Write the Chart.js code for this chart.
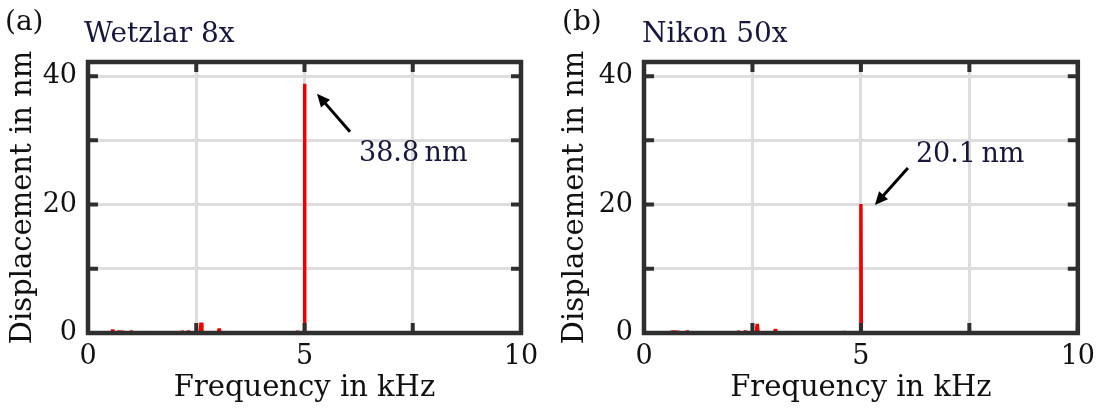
<!DOCTYPE html>
<html>
<head>
<meta charset="utf-8">
<script src="https://cdn.jsdelivr.net/npm/chart.js@4"></script>
<style>
  html, body { margin: 0; padding: 0; background: #ffffff; }
  #wrap { position: relative; width: 1103px; height: 415px; }
  .panel { position: absolute; top: 0; height: 415px; }
</style>
</head>
<body>
<div id="wrap">
  <div class="panel" style="left:0;width:552px"><canvas id="chartA"></canvas></div>
  <div class="panel" style="left:552px;width:551px"><canvas id="chartB"></canvas></div>
</div>
<script>
// ---- data -------------------------------------------------------------
// Amplitude spectra of the surface displacement (kHz vs. nm)
const peakA = 38.8;   // main line at 5 kHz, Wetzlar 8x
const peakB = 20.1;   // main line at 5 kHz, Nikon 50x

const freqA = [0.00, 0.55, 0.57, 0.59, 0.70, 0.72, 0.74, 0.78, 0.80, 0.82,
               0.97, 0.99, 1.01, 2.16, 2.18, 2.20, 2.30, 2.32, 2.34, 2.59,
               2.61, 2.63, 3.01, 3.03, 3.05, 4.82, 4.84, 4.86, 4.99, 5.00,
               5.01, 10.00];
const dispA = [0.05, 0.05, 0.50, 0.05, 0.05, 0.30, 0.05, 0.05, 0.25, 0.05,
               0.05, 0.35, 0.05, 0.05, 0.25, 0.05, 0.05, 0.30, 0.05, 0.05,
               1.60, 0.05, 0.05, 0.70, 0.05, 0.05, 0.20, 0.05, 0.05, peakA,
               0.05, 0.05];

const freqB = [0.00, 0.60, 0.62, 0.64, 0.68, 0.70, 0.72, 0.76, 0.78, 0.80,
               0.98, 1.00, 1.02, 2.16, 2.18, 2.20, 2.32, 2.34, 2.36, 2.59,
               2.61, 2.63, 3.01, 3.03, 3.05, 4.60, 4.62, 4.64, 4.99, 5.00,
               5.01, 10.00];
const dispB = [0.05, 0.05, 0.30, 0.05, 0.05, 0.30, 0.05, 0.05, 0.25, 0.05,
               0.05, 0.30, 0.05, 0.05, 0.25, 0.05, 0.05, 0.30, 0.05, 0.05,
               1.40, 0.05, 0.05, 0.60, 0.05, 0.05, 0.15, 0.05, 0.05, peakB,
               0.05, 0.05];

const xGrid   = [0, 2.5, 5, 7.5, 10];
const xLabels = [0, 5, 10];
const yGrid   = [0, 10, 20, 30, 40];
const yLabels = [0, 20, 40];

// ---- styles -----------------------------------------------------------
const FAMILY = '"DejaVu Serif", "Liberation Serif", serif';
const RED = '#ee0000';
const FRAME = '#2f2f2f';
const GRID = '#dddddd';
const INK = '#111111';
const NAVY = '#17173d';

// Frame with inward ticks, panel tag, title and the peak annotation
function panelPlugin(p) {
  return {
    id: 'panel',
    afterDraw(chart) {
      const ctx = chart.ctx;
      const a = chart.chartArea;
      const xs = chart.scales.x, ys = chart.scales.y;
      ctx.save();
      // frame
      ctx.strokeStyle = FRAME;
      ctx.lineWidth = 4.5;
      ctx.lineJoin = 'miter';
      ctx.strokeRect(a.left, a.top, a.right - a.left, a.bottom - a.top);
      // inward tick marks
      ctx.lineWidth = 4;
      ctx.lineCap = 'butt';
      const tl = 10;
      ctx.beginPath();
      xs.ticks.forEach(t => {
        const px = xs.getPixelForValue(t.value);
        ctx.moveTo(px, a.bottom); ctx.lineTo(px, a.bottom - tl);
        ctx.moveTo(px, a.top); ctx.lineTo(px, a.top + tl);
      });
      ys.ticks.forEach(t => {
        const py = ys.getPixelForValue(t.value);
        ctx.moveTo(a.left, py); ctx.lineTo(a.left + tl, py);
        ctx.moveTo(a.right, py); ctx.lineTo(a.right - tl, py);
      });
      ctx.stroke();

      // panel tag and title
      ctx.textBaseline = 'alphabetic';
      ctx.textAlign = 'left';
      ctx.fillStyle = INK;
      ctx.font = '28px ' + FAMILY;
      ctx.fillText(p.tag, p.tagX, 30);
      ctx.fillStyle = NAVY;
      ctx.font = '28px ' + FAMILY;
      ctx.fillText(p.title, p.titleX, 42);

      // annotation arrow pointing at the main peak
      const px = xs.getPixelForValue(p.peakFreq);
      const py = ys.getPixelForValue(p.peak);
      const tipX = px + p.tip[0], tipY = py + p.tip[1];
      const tailX = px + p.tail[0], tailY = py + p.tail[1];
      const ang = Math.atan2(tipY - tailY, tipX - tailX);
      const hl = 13, hw = 6;
      ctx.strokeStyle = '#000000';
      ctx.fillStyle = '#000000';
      ctx.lineWidth = 3;
      ctx.beginPath();
      ctx.moveTo(tailX, tailY);
      ctx.lineTo(tipX - Math.cos(ang) * (hl - 2), tipY - Math.sin(ang) * (hl - 2));
      ctx.stroke();
      ctx.beginPath();
      ctx.moveTo(tipX, tipY);
      ctx.lineTo(tipX - Math.cos(ang) * hl - Math.sin(ang) * hw, tipY - Math.sin(ang) * hl + Math.cos(ang) * hw);
      ctx.lineTo(tipX - Math.cos(ang) * hl + Math.sin(ang) * hw, tipY - Math.sin(ang) * hl - Math.cos(ang) * hw);
      ctx.closePath();
      ctx.fill();

      ctx.fillStyle = NAVY;
      ctx.font = '27px ' + FAMILY;
      ctx.fillText(p.peak.toFixed(1) + '\u2009nm', px + p.text[0], py + p.text[1]);
      ctx.restore();
    }
  };
}

function makeChart(id, freq, disp, p) {
  const pts = freq.map((f, i) => ({ x: f, y: disp[i] }));
  const tickFont = { family: FAMILY, size: 27 };
  const titleFont = { family: FAMILY, size: 29 };
  return new Chart(document.getElementById(id), {
    type: 'line',
    data: {
      datasets: [{
        data: pts,
        borderColor: RED,
        borderWidth: 3.5,
        borderJoinStyle: 'bevel',
        pointRadius: 0,
        tension: 0,
        fill: false
      }]
    },
    options: {
      responsive: true,
      maintainAspectRatio: false,
      animation: false,
      devicePixelRatio: 1,
      events: [],
      layout: { padding: { top: 62, right: p.padRight, bottom: 0, left: 0 } },
      plugins: { legend: { display: false }, tooltip: { enabled: false }, title: { display: false } },
      scales: {
        x: {
          type: 'linear', min: 0, max: 10,
          afterBuildTicks: s => { s.ticks = xGrid.map(v => ({ value: v })); },
          afterFit: s => { s.height = 82; },
          ticks: {
            callback: v => (xLabels.includes(v) ? String(v) : ''),
            font: tickFont, color: INK, padding: 8, maxRotation: 0, autoSkip: false
          },
          grid: { color: GRID, lineWidth: 3, drawTicks: false },
          border: { display: false },
          title: { display: true, text: 'Frequency in kHz', font: titleFont, color: INK, padding: { top: 0, bottom: 9 } }
        },
        y: {
          type: 'linear', min: 0, max: 42.2,
          afterBuildTicks: s => { s.ticks = yGrid.map(v => ({ value: v })); },
          afterFit: s => { s.width = p.yWidth; },
          ticks: {
            callback: v => (yLabels.includes(v) ? String(v) : ''),
            font: tickFont, color: INK, padding: 11, autoSkip: false
          },
          grid: { color: GRID, lineWidth: 3, drawTicks: false },
          border: { display: false },
          title: { display: true, text: 'Displacement in nm', font: titleFont, color: INK, padding: { top: 6, bottom: 0 } }
        }
      }
    },
    plugins: [panelPlugin(p)]
  });
}

makeChart('chartA', freqA, dispA, {
  tag: '(a)', tagX: 5, title: 'Wetzlar 8x', titleX: 84,
  yWidth: 88, padRight: 31,
  peak: peakA, peakFreq: 5,
  tip: [12.5, 10], tail: [45.5, 48], text: [54.5, 77]
});
makeChart('chartB', freqB, dispB, {
  tag: '(b)', tagX: 10, title: 'Nikon 50x', titleX: 90,
  yWidth: 92, padRight: 22,
  peak: peakB, peakFreq: 5,
  tip: [14, 1], tail: [47, -36], text: [55, -42]
});
</script>
</body>
</html>
